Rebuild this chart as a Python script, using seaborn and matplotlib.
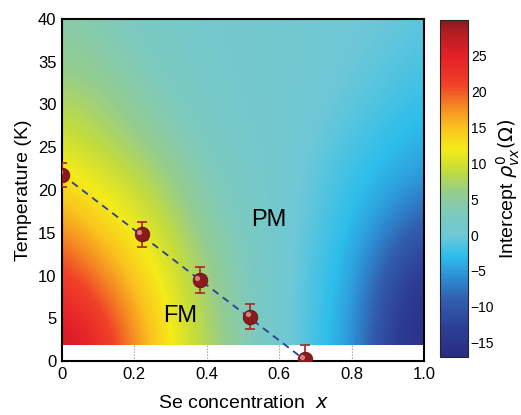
import numpy as np
import pandas as pd
import matplotlib
matplotlib.use("Agg")
import matplotlib.pyplot as plt
import seaborn as sns
from matplotlib.colors import LinearSegmentedColormap
from matplotlib.patches import Rectangle
from matplotlib.transforms import ScaledTranslation

# grid of the intercept map
x_grid = [0.0, 0.1, 0.2, 0.3, 0.4, 0.5, 0.6, 0.7, 0.8, 0.9, 1.0]
T_grid = [2, 7, 12, 17, 22, 27, 32, 37, 42]
rho_T2 = [27.5, 24, 18, 12, 8, 4, 1, -2, -5, -12.5, -16.5]
rho_T7 = [24, 21, 16, 11.5, 7, 3.5, 1, -1.8, -4.5, -11.5, -15.5]
rho_T12 = [20.5, 17, 13.5, 10, 6, 3, 1, -1.5, -3.8, -9, -13]
rho_T17 = [16.5, 13.5, 11, 8, 4.5, 2.5, 1, -1, -3, -5.5, -9]
rho_T22 = [12.5, 10.5, 8.5, 6, 3.2, 2, 1, -0.5, -2.3, -3.5, -5]
rho_T27 = [9.5, 8, 6, 4, 2.3, 1.5, 1, 0, -1.2, -2.5, -3.5]
rho_T32 = [7, 6, 4.2, 2.8, 1.8, 1.3, 1, 0.4, -0.4, -1.3, -2.2]
rho_T37 = [5, 4.3, 3, 2, 1.5, 1.2, 1, 0.6, 0, -0.5, -1.3]
rho_T42 = [4, 3.3, 2.3, 1.7, 1.4, 1.2, 1, 0.7, 0.3, 0, -0.6]

# Curie temperatures
x_pts = [0.0, 0.22, 0.38, 0.52, 0.67]
Tc_pts = [21.8, 14.8, 9.5, 5.2, 0.2]
Tc_err = [1.4, 1.5, 1.5, 1.5, 1.7]

# linear guide line
fit_x = [0.0, 0.69]
fit_T = [21.8, -0.5]

vmin, vmax = -17, 30
T_min = 1.9

sns.set_style("white")
plt.rcParams['font.family'] = ['Liberation Sans', 'DejaVu Sans']
plt.rcParams['mathtext.fontset'] = 'dejavusans'
plt.rcParams['text.color'] = 'black'
plt.rcParams['axes.labelcolor'] = 'black'
plt.rcParams['xtick.color'] = 'black'
plt.rcParams['ytick.color'] = 'black'

stops = [(-17, (40, 45, 130)), (-13, (45, 62, 150)), (-9, (50, 95, 175)),
         (-6, (45, 140, 210)), (-3, (45, 190, 235)), (0, (110, 200, 215)),
         (3, (125, 202, 190)), (6, (150, 205, 140)), (9, (195, 220, 60)),
         (12, (245, 235, 25)), (15, (250, 195, 30)), (18, (245, 135, 35)),
         (21, (240, 65, 40)), (25, (228, 32, 40)), (28, (185, 30, 35)),
         (30, (135, 28, 30))]
cmap = LinearSegmentedColormap.from_list(
    "rho", [((v - vmin) / (vmax - vmin), tuple(c / 255 for c in col)) for v, col in stops])

Z = np.array([rho_T2, rho_T7, rho_T12, rho_T17, rho_T22, rho_T27, rho_T32, rho_T37, rho_T42])
dx = x_grid[1] - x_grid[0]
dT = T_grid[1] - T_grid[0]

fig = plt.figure(figsize=(5.21, 4.15), dpi=100)
ax = fig.add_axes([62 / 521, (415 - 361) / 415, 362 / 521, 342 / 415])
cax = fig.add_axes([440 / 521, (415 - 357) / 415, 28 / 521, 337 / 415])

ax.set_axisbelow(True)
ax.grid(axis='x', linestyle=':', color='#888888', linewidth=0.8)
ax.grid(axis='y', visible=False)

im = ax.imshow(Z, origin='lower', aspect='auto', cmap=cmap, vmin=vmin, vmax=vmax,
               interpolation='bicubic', interpolation_stage='data',
               extent=[x_grid[0] - dx / 2, x_grid[-1] + dx / 2,
                       T_grid[0] - dT / 2, T_grid[-1] + dT / 2], zorder=1)
im.set_clip_path(Rectangle((0, T_min), 1, 40 - T_min, transform=ax.transData))

fit_df = pd.DataFrame({"x": fit_x, "T": fit_T})
sns.lineplot(data=fit_df, x="x", y="T", ax=ax, color='#2a3f9a', linestyle=(0, (4, 3)),
             linewidth=1.3, zorder=3)

ax.errorbar(x_pts, Tc_pts, yerr=Tc_err, fmt='none', ecolor='#b03030', elinewidth=1.3,
            capsize=3.5, capthick=1.3, zorder=4)
pts_df = pd.DataFrame({"x": x_pts, "T": Tc_pts})
sns.scatterplot(data=pts_df, x="x", y="T", ax=ax, s=110, color='#8a1a1c',
                edgecolor='#6a1012', linewidth=0.6, zorder=5)
# small highlight on each sphere
shift = ax.transData + ScaledTranslation(-1.6 / 72, 1.6 / 72, fig.dpi_scale_trans)
ax.scatter(x_pts, Tc_pts, s=14, color='#e2a0a0', alpha=0.8, linewidth=0,
           transform=shift, zorder=6)

ax.text(0.57, 16.5, "PM", fontsize=17, ha='center', va='center', zorder=6)
ax.text(0.326, 5.3, "FM", fontsize=17, ha='center', va='center', zorder=6)

ax.set_xlim(0, 1)
ax.set_ylim(0, 40)
ax.set_xticks([0, 0.2, 0.4, 0.6, 0.8, 1.0])
ax.set_xticklabels(["0", "0.2", "0.4", "0.6", "0.8", "1.0"])
ax.set_yticks(range(0, 41, 5))
ax.tick_params(direction='in', labelsize=12, length=3, left=True, bottom=False, pad=4)
ax.set_xlabel("Se concentration  $x$", fontsize=14, labelpad=10)
ax.set_ylabel("Temperature (K)", fontsize=14, labelpad=4)
for s in ax.spines.values():
    s.set_color('black')
    s.set_linewidth(1.5)

cb = fig.colorbar(im, cax=cax)
cb.set_ticks(range(-15, 26, 5))
cb.outline.set_linewidth(0.8)
cax.tick_params(direction='in', labelsize=10, length=4, left=True, right=True, pad=2)
cb.set_label(r"Intercept $\rho_{vx}^{0}(\Omega)$", fontsize=14, labelpad=0)

fig.savefig("out.png", dpi=100)
